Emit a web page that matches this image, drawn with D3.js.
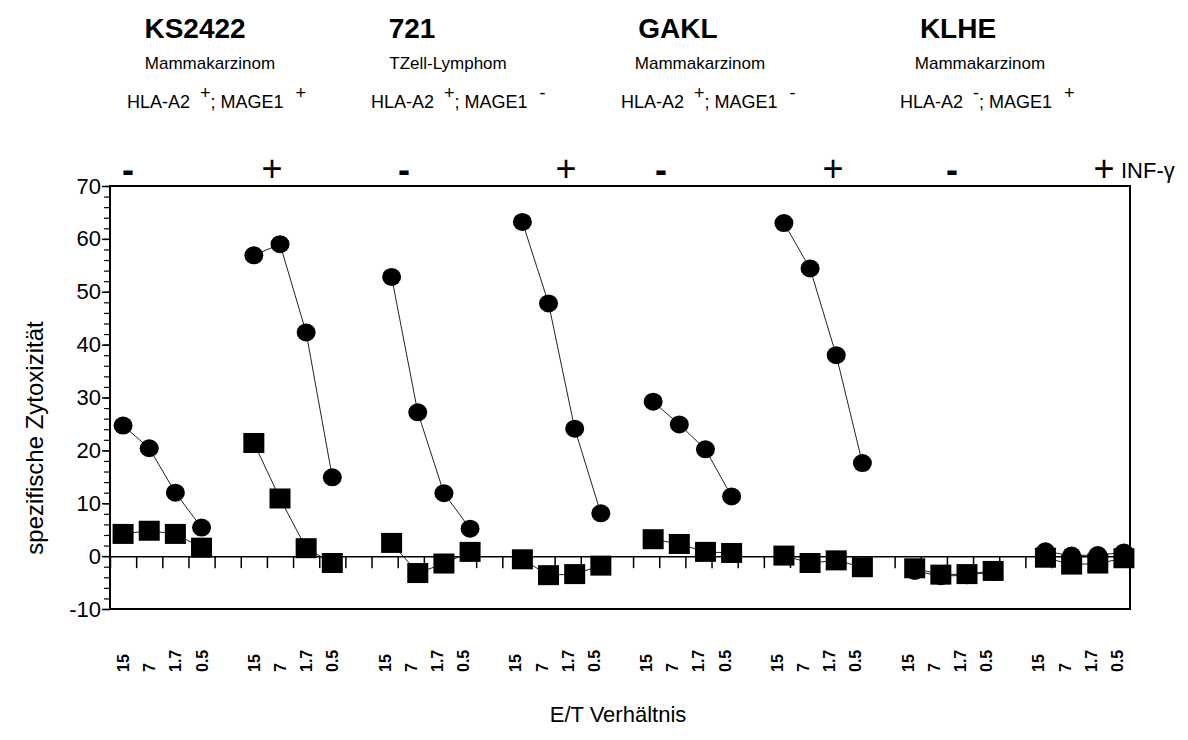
<!DOCTYPE html>
<html>
<head>
<meta charset="utf-8">
<script src="https://cdn.jsdelivr.net/npm/d3@7"></script>
<style>
  body { margin: 0; background: #fff; }
  svg { font-family: "Liberation Sans", Arial, sans-serif; }
</style>
</head>
<body>
<div id="chart"></div>
<script>
// cell lines and their descriptions (one per pair of groups)
var cellLines = ["KS2422", "721", "GAKL", "KLHE"];
var tumorTypes = ["Mammakarzinom", "TZell-Lymphom", "Mammakarzinom", "Mammakarzinom"];
var hlaA2 = ["+", "+", "+", "-"];
var mage1 = ["+", "-", "-", "+"];

// INF-gamma treatment per group
var infGamma = ["-", "+", "-", "+", "-", "+", "-", "+"];

// E/T ratios inside every group
var etRatios = ["15", "7", "1.7", "0.5"];

// specific cytotoxicity, circles and squares, one row per group
var circleValues = [
    [24.7, 20.4, 12.0, 5.4],
    [56.9, 59.0, 42.3, 14.9],
    [52.8, 27.2, 11.9, 5.2],
    [63.2, 47.8, 24.1, 8.1],
    [29.2, 24.9, 20.2, 11.3],
    [63.0, 54.4, 38.0, 17.6],
    [-2.8, -3.8, -3.6, -3.0],
    [0.9, 0.1, 0.2, 0.7]
];
var squareValues = [
    [4.2, 4.8, 4.2, 1.6],
    [21.4, 10.9, 1.5, -1.3],
    [2.5, -3.2, -1.4, 0.8],
    [-0.6, -3.6, -3.4, -1.8],
    [3.2, 2.3, 0.8, 0.6],
    [0.1, -1.3, -0.8, -2.1],
    [-2.3, -3.5, -3.4, -2.8],
    [-0.3, -1.6, -1.4, -0.4]
];

var yTicks = [-10, 0, 10, 20, 30, 40, 50, 60, 70];

// layout
var width = 1188, height = 740;
var plotLeft = 110, plotRight = 1130, plotTop = 186, plotBottom = 609;
var slotsPerGroup = 5;              // 4 points + 1 gap
var nSlots = 8 * slotsPerGroup - 1;
var groupShift = [0, 0, 7, 7, 7, 7, 7, 7];   // the original plot nudges later groups
var headerX = [195, 412, 678, 958];
var subX = [210, 448, 700, 980];
var markX = [127, 371, 621, 900];
var infX = [128, 272, 404, 566, 661, 833, 952, 1104];

var svg = d3.select("#chart").append("svg")
    .attr("width", width)
    .attr("height", height);

var x = d3.scaleLinear().domain([0, nSlots]).range([plotLeft, plotRight]);
var y = d3.scaleLinear().domain([-10, 70]).range([plotBottom, plotTop]);

function slotOf(g, j) { return g * slotsPerGroup + j; }
function px(g, j) { return x(slotOf(g, j) + 0.5) + groupShift[g]; }

// frame
svg.append("rect")
    .attr("x", plotLeft).attr("y", plotTop)
    .attr("width", plotRight - plotLeft).attr("height", plotBottom - plotTop)
    .attr("fill", "none").attr("stroke", "#000").attr("stroke-width", 2);

// y axis with minor ticks
var yAxis = d3.axisLeft(y).tickValues(yTicks).tickSize(8).tickPadding(1)
    .tickFormat(function (d) { return String(d); });
var gy = svg.append("g").attr("transform", "translate(" + plotLeft + ",0)").call(yAxis);
gy.select(".domain").remove();
gy.selectAll("text").attr("font-size", 22).attr("fill", "#000")
    .attr("font-family", "Liberation Sans, Arial, sans-serif");
gy.selectAll("line").attr("stroke-width", 1.5);
var yMinor = d3.axisLeft(y).tickValues(d3.range(-10, 71, 2)).tickSize(6).tickFormat("");
var gm = svg.append("g").attr("transform", "translate(" + plotLeft + ",0)").call(yMinor);
gm.select(".domain").remove();
gm.selectAll("line").attr("stroke-width", 1.2);

// zero line with ticks pointing down
var xAxis = d3.axisBottom(x).tickValues(d3.range(1, nSlots)).tickSize(12).tickFormat("");
var gx = svg.append("g").attr("transform", "translate(0," + y(0) + ")").call(xAxis);
gx.select(".domain").attr("stroke-width", 1.5);
gx.selectAll("line").attr("stroke-width", 1.5);

// E/T labels, rotated
var labels = [];
infGamma.forEach(function (s, g) {
    etRatios.forEach(function (r, j) { labels.push({ g: g, j: j, r: r }); });
});
svg.append("g").selectAll("text")
    .data(labels)
    .enter().append("text")
    .attr("transform", function (d) {
        return "translate(" + (x(slotOf(d.g, d.j) + 0.5) + 6) + ",672) rotate(-90)";
    })
    .attr("font-size", 16).attr("font-weight", "bold")
    .text(function (d) { return d.r; });

// lines and markers
var line = d3.line()
    .x(function (d) { return d.x; })
    .y(function (d) { return y(d.v); });

function series(values) {
    return values.map(function (row, g) {
        return row.map(function (v, j) { return { x: px(g, j), v: v }; });
    });
}
var circles = series(circleValues);
var squares = series(squareValues);

var plot = svg.append("g");
plot.selectAll(".cline").data(circles).enter().append("path")
    .attr("class", "cline").attr("d", line)
    .attr("fill", "none").attr("stroke", "#222").attr("stroke-width", 1);
plot.selectAll(".sline").data(squares).enter().append("path")
    .attr("class", "sline").attr("d", line)
    .attr("fill", "none").attr("stroke", "#222").attr("stroke-width", 1);

plot.selectAll(".circle").data(d3.merge(circles)).enter().append("ellipse")
    .attr("class", "circle")
    .attr("cx", function (d) { return d.x; })
    .attr("cy", function (d) { return y(d.v); })
    .attr("rx", 9.5).attr("ry", 9)
    .attr("fill", "#000");
plot.selectAll(".square").data(d3.merge(squares)).enter().append("rect")
    .attr("class", "square")
    .attr("x", function (d) { return d.x - 10.5; })
    .attr("y", function (d) { return y(d.v) - 10; })
    .attr("width", 21).attr("height", 20)
    .attr("fill", "#000");

// INF-gamma row
svg.append("g").selectAll("text")
    .data(infGamma)
    .enter().append("text")
    .attr("x", function (d, i) { return infX[i]; })
    .attr("y", function (d) { return d == "+" ? 181 : 182; })
    .attr("text-anchor", "middle")
    .attr("font-size", 36)
    .attr("font-weight", function (d) { return d == "+" ? "normal" : "bold"; })
    .text(function (d) { return d; });
svg.append("text")
    .attr("x", 1121).attr("y", 178)
    .attr("font-size", 22)
    .text("INF-γ");

// header
var head = svg.append("g");
head.selectAll(".cell").data(cellLines).enter().append("text")
    .attr("class", "cell")
    .attr("x", function (d, i) { return headerX[i]; })
    .attr("y", 38)
    .attr("text-anchor", "middle")
    .attr("font-size", 28).attr("font-weight", "bold")
    .text(function (d) { return d; });
head.selectAll(".tumor").data(tumorTypes).enter().append("text")
    .attr("class", "tumor")
    .attr("x", function (d, i) { return subX[i]; })
    .attr("y", 69)
    .attr("text-anchor", "middle")
    .attr("font-size", 17)
    .text(function (d) { return d; });
var marks = head.selectAll(".marks").data(cellLines).enter().append("text")
    .attr("class", "marks")
    .attr("x", function (d, i) { return markX[i]; })
    .attr("y", 108)
    .attr("font-size", 18);
marks.append("tspan").text("HLA-A2");
marks.append("tspan").attr("dy", -9).attr("dx", 10)
    .text(function (d, i) { return hlaA2[i]; });
marks.append("tspan").attr("dy", 9).text("; MAGE1");
marks.append("tspan").attr("dy", -9).attr("dx", 12)
    .text(function (d, i) { return mage1[i]; });

// axis titles
svg.append("text")
    .attr("transform", "translate(43,438) rotate(-90)")
    .attr("text-anchor", "middle")
    .attr("font-size", 24)
    .text("spezifische Zytoxizität");
svg.append("text")
    .attr("x", 618).attr("y", 722)
    .attr("text-anchor", "middle")
    .attr("font-size", 22)
    .text("E/T Verhältnis");
</script>
</body>
</html>
